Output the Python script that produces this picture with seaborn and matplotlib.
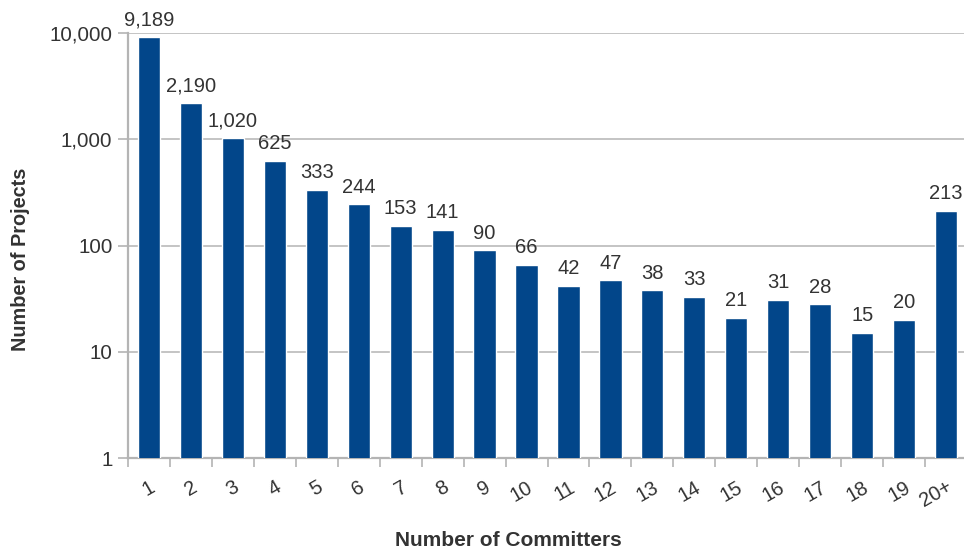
import matplotlib
matplotlib.use("Agg")
import matplotlib.pyplot as plt
import matplotlib.ticker as mticker
import seaborn as sns
import pandas as pd
import numpy as np

categories = ["1", "2", "3", "4", "5", "6", "7", "8", "9", "10", "11", "12",
              "13", "14", "15", "16", "17", "18", "19", "20+"]
projects = [9189, 2190, 1020, 625, 333, 244, 153, 141, 90, 66, 42, 47,
            38, 33, 21, 31, 28, 15, 20, 213]
y_ticks = [1, 10, 100, 1000, 10000]
y_ticklabels = ["1", "10", "100", "1,000", "10,000"]

sns.set_theme(style="white")
plt.rcParams['font.family'] = ['Liberation Sans', 'DejaVu Sans']

df = pd.DataFrame({"Committers": categories, "Projects": projects})

fig = plt.figure(figsize=(9.64, 5.50), dpi=100)
ax = fig.add_axes([128/964, 1 - 458/550, (967 - 128)/964, (458 - 33)/550])

sns.barplot(data=df, x="Committers", y="Projects", order=categories,
            color="#02468a", saturation=1, width=0.53, ax=ax, zorder=3)

ax.set_yscale("log")
ax.set_ylim(1, 10000)
ax.set_xlim(-0.5, len(categories) - 0.5)
ax.yaxis.set_major_locator(mticker.FixedLocator(y_ticks))
ax.yaxis.set_major_formatter(mticker.FixedFormatter(y_ticklabels))
ax.yaxis.set_minor_locator(mticker.NullLocator())
ax.grid(axis="y", color="#b4b4b4", linewidth=1.1, zorder=0)
ax.set_axisbelow(True)

for s in ["top", "right"]:
    ax.spines[s].set_visible(False)
for s in ["left", "bottom"]:
    ax.spines[s].set_color("#b4b4b4")
    ax.spines[s].set_linewidth(1.6)

ax.tick_params(axis="y", which="major", length=7.2, width=1.2, color="#b4b4b4",
               labelsize=14.8, labelcolor="#333333", pad=4, left=True)

# x: labels at centres (no tick mark), tick marks at category boundaries
ax.set_xticks(np.arange(len(categories)))
ax.set_xticklabels(categories, rotation=30, ha="right", rotation_mode="anchor")
ax.tick_params(axis="x", which="major", length=0, labelsize=14.5,
               labelcolor="#333333", pad=14)
ax.set_xticks(np.arange(len(categories)) - 0.5, minor=True)
ax.tick_params(axis="x", which="minor", length=6.5, width=1.2, color="#b4b4b4",
               bottom=True)

labels = [f"{v:,}" for v in projects]
ax.bar_label(ax.containers[0], labels=labels, padding=5.5, fontsize=14.5,
             color="#333333")

ax.set_xlabel("Number of Committers", fontsize=15, fontweight="bold",
              color="#333333")
ax.set_ylabel("Number of Projects", fontsize=14.3, fontweight="bold",
              color="#333333")
ax.xaxis.set_label_coords((508 - 128) / 839, -(531 - 458) / 425)
ax.yaxis.set_label_coords(-(128 - 30) / 839, (458 - 259) / 425)

fig.savefig("out.png", dpi=100)
